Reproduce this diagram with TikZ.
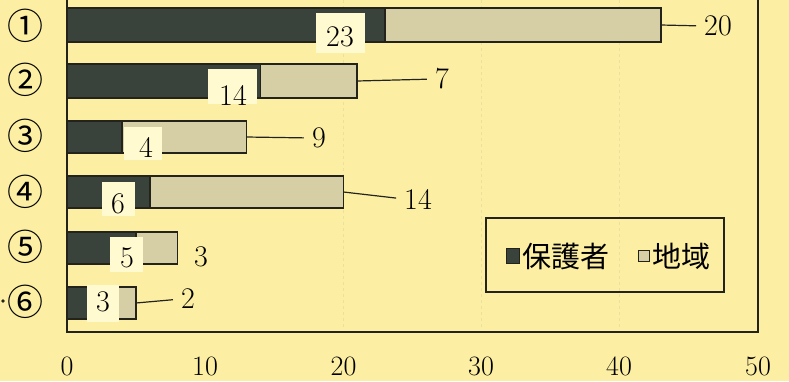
\documentclass[tikz,border=0pt]{standalone}
\usepackage{fontspec}
\usepackage{xcolor}
\usetikzlibrary{positioning}
\newfontfamily\jpfont{Noto Sans CJK JP}
\definecolor{bgyellow}{RGB}{252,239,163}
\definecolor{boxyellow}{RGB}{255,250,207}
\definecolor{darkbar}{RGB}{58,66,60}
\definecolor{lightbar}{RGB}{214,207,166}
\definecolor{inkline}{RGB}{35,35,28}
\definecolor{gridfaint}{RGB}{236,224,158}
\tikzset{
  hogo/.style={draw=inkline, line width=1.2pt, fill=darkbar},
  chiiki/.style={draw=inkline, line width=1.2pt, fill=lightbar},
  numbox/.style={fill=boxyellow},
  num/.style={inner sep=0pt, font=\fontsize{30}{30}\selectfont},
  ticklab/.style={inner sep=0pt, font=\fontsize{28}{28}\selectfont},
  rowlab/.style={inner sep=0pt, font=\jpfont\fontsize{36}{36}\selectfont},
  leader/.style={draw=inkline, line width=1.2pt, shorten >=8pt},
  keytext/.style={inner sep=0pt, font=\jpfont\fontsize{29}{29}\selectfont},
}
\begin{document}
\begin{tikzpicture}[x=1pt, y=-1pt]
\useasboundingbox (0,0) rectangle (789,381);
\fill[bgyellow] (0,0) rectangle (789,381);
% \draw[help lines, dashed, red] (0,0) grid (789,381);
\draw[gridfaint, line width=1pt, dashed](343.5,0)--(343.5,330);
\draw[gridfaint, line width=1pt, dashed](481,0)--(481,330);
\draw[gridfaint, line width=1pt, dashed](619,0)--(619,330);
\draw[inkline, line width=1.5pt](67,-5)--(67,332)--(758,332)--(758,-5);
% row 1
\draw[hogo](67,8) rectangle (385,42);
\draw[chiiki](385,8) rectangle (661,42);
\coordinate (e1) at (661,25);
\fill[numbox](316,13) rectangle (365,53);
\node[num] (h1) at (340,37) {23};
\node[num] (c1) at (718,26) {20};
\draw[leader](e1)--(c1.west);
% row 2
\draw[hogo](67,64) rectangle (260.5,98);
\draw[chiiki](260.5,64) rectangle (357,98);
\coordinate (e2) at (357,81);
\fill[numbox](208,69) rectangle (257,104);
\node[num] (h2) at (233,95) {14};
\node[num] (c2) at (442,79) {7};
\draw[leader](e2)--(c2.west);
% row 3
\draw[hogo](67,121) rectangle (122,153);
\draw[chiiki](122,121) rectangle (246.5,153);
\coordinate (e3) at (246.5,137);
\fill[numbox](124,127) rectangle (162,160);
\node[num] (h3) at (146,147) {4};
\node[num] (c3) at (319,138) {9};
\draw[leader](e3)--(c3.west);
% row 4
\draw[hogo](67,176) rectangle (150,208);
\draw[chiiki](150,176) rectangle (343.5,208);
\coordinate (e4) at (343.5,192);
\fill[numbox](102,182) rectangle (135,216);
\node[num] (h4) at (118,204) {6};
\node[num] (c4) at (418,199) {14};
\draw[leader](e4)--(c4.west);
% row 5
\draw[hogo](67,232) rectangle (136,264);
\draw[chiiki](136,232) rectangle (177.5,264);
\fill[numbox](110,237) rectangle (143,272);
\node[num] (h5) at (127,258) {5};
\node[num] (c5) at (201,257) {3};
% row 6
\draw[hogo](67,287) rectangle (108.5,319);
\draw[chiiki](108.5,287) rectangle (136,319);
\coordinate (e6) at (136,303);
\fill[numbox](87,285) rectangle (119,322);
\node[num] (h6) at (103,302) {3};
\node[num] (c6) at (188,299) {2};
\draw[leader](e6)--(c6.west);
% legend
\node[draw=inkline, line width=1.4pt, minimum width=238, minimum height=74, inner sep=0pt] (key) at (605,255) {};
\node[draw=inkline, line width=0.6pt, fill=darkbar, minimum width=13, minimum height=15, inner sep=0pt] (kh) at (513,256) {};
\node[keytext, right=2pt of kh] (kht) {保護者};
\node[draw=inkline, line width=0.8pt, fill=lightbar, minimum size=11, inner sep=0pt, right=29pt of kht] (kc) {};
\node[keytext, right=2pt of kc] (kct) {地域};
% axis numbers
\node[ticklab] (t0) at (67,366) {0};
\node[ticklab] (t10) at (205,366) {10};
\node[ticklab] (t20) at (343.5,366) {20};
\node[ticklab] (t30) at (481,366) {30};
\node[ticklab] (t40) at (619,366) {40};
\node[ticklab] (t50) at (758,366) {50};
% row labels
\node[rowlab] (r1) at (25,26) {①};
\node[rowlab] (r2) at (25,80) {②};
\node[rowlab] (r3) at (25,136) {③};
\node[rowlab] (r4) at (25,192) {④};
\node[rowlab] (r5) at (25,247) {⑤};
\node[rowlab] (r6) at (25,302) {⑥};
\fill[inkline] (3,301) circle (1.8);
\end{tikzpicture}
\end{document}
